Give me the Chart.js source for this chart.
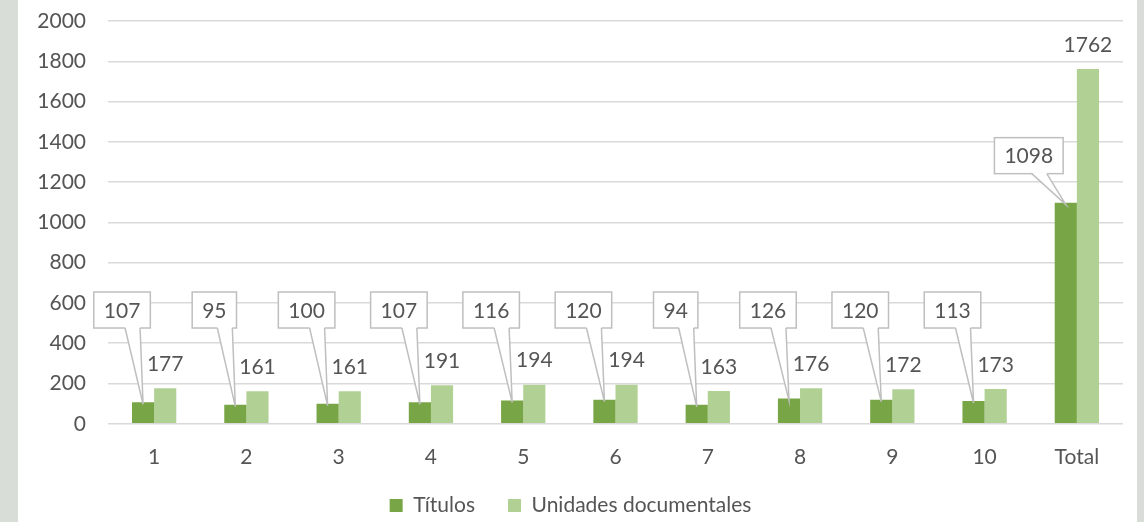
<!DOCTYPE html>
<html lang="es">
<head>
  <meta charset="UTF-8" />
  <title>Títulos y unidades documentales</title>
  <script src="https://cdn.jsdelivr.net/npm/chart.js"></script>
  <style>
    html, body { margin: 0; padding: 0; }
    body { background: #d9ddd8; width: 1144px; height: 522px; overflow: hidden; }
    .panel { position: absolute; left: 18px; top: 0; width: 1119px; height: 522px; background: #fff; }
  </style>
</head>
<body>
  <div class="panel">
    <canvas id="chart" width="1119" height="522"></canvas>
  </div>

  <script>
    // datos
    const categorias = ['1', '2', '3', '4', '5', '6', '7', '8', '9', '10', 'Total'];
    const titulos = [107, 95, 100, 107, 116, 120, 94, 126, 120, 113, 1098];
    const unidades = [177, 161, 161, 191, 194, 194, 163, 176, 172, 173, 1762];
    const ticksY = [0, 200, 400, 600, 800, 1000, 1200, 1400, 1600, 1800, 2000];

    const FONT = 'Lato, "Open Sans", sans-serif';
    const SIZE = 21;
    const GRIS = '#555555';

    // etiquetas: recuadro con flecha para Títulos, texto simple para Unidades
    const etiquetas = {
      id: 'etiquetas',
      afterDatasetsDraw(chart) {
        const ctx = chart.ctx;
        const y = chart.scales.y;
        ctx.save();
        ctx.font = SIZE + 'px ' + FONT;
        ctx.textAlign = 'center';
        ctx.textBaseline = 'middle';

        // Unidades documentales
        chart.getDatasetMeta(1).data.forEach((bar, i) => {
          ctx.fillStyle = GRIS;
          ctx.fillText(String(unidades[i]), bar.x, bar.y - 24);
        });

        // Títulos (callouts)
        chart.getDatasetMeta(0).data.forEach((bar, i) => {
          const txt = String(titulos[i]);
          const w = ctx.measureText(txt).width + 20;
          const h = 36;
          const cx = bar.x - (txt.length > 3 ? 37 : 21);
          const cy = Math.min(y.getPixelForValue(565), bar.y - 47);
          const left = cx - w / 2, top = cy - h / 2, bottom = cy + h / 2;

          ctx.fillStyle = '#fff';
          ctx.strokeStyle = '#bfbfbf';
          ctx.lineWidth = 1.5;
          ctx.fillRect(left, top, w, h);
          ctx.strokeRect(left, top, w, h);

          const tipX = bar.x, tipY = bar.y + 2;
          const a = cx + 3, b = cx + 18;
          ctx.beginPath();
          ctx.moveTo(a, bottom - 1);
          ctx.lineTo(tipX, tipY);
          ctx.lineTo(b, bottom - 1);
          ctx.closePath();
          ctx.fill();
          ctx.beginPath();
          ctx.moveTo(a, bottom);
          ctx.lineTo(tipX, tipY);
          ctx.lineTo(b, bottom);
          ctx.stroke();

          ctx.fillStyle = GRIS;
          ctx.fillText(txt, cx, cy + 1);
        });
        ctx.restore();
      }
    };

    new Chart(document.getElementById('chart'), {
      type: 'bar',
      data: {
        labels: categorias,
        datasets: [
          { label: 'Títulos', data: titulos, backgroundColor: '#78a646' },
          { label: 'Unidades documentales', data: unidades, backgroundColor: '#b0d094' }
        ]
      },
      options: {
        responsive: false,
        animation: false,
        datasets: { bar: { barPercentage: 1, categoryPercentage: 0.48 } },
        layout: { padding: { left: 0, right: 14, top: 21, bottom: -4 } },
        plugins: {
          legend: {
            position: 'bottom',
            labels: {
              boxWidth: 13, boxHeight: 13, padding: 12,
              color: GRIS, font: { family: FONT, size: SIZE },
              // un poco más de aire entre las dos entradas
              generateLabels: chart => Chart.defaults.plugins.legend.labels.generateLabels(chart)
                .map((l, i) => i === 0 ? { ...l, text: l.text + '\u2002\u2002' } : l)
            }
          },
          tooltip: { enabled: false }
        },
        scales: {
          x: {
            grid: { display: false },
            border: { display: false },
            ticks: { color: GRIS, font: { family: FONT, size: SIZE }, padding: 13 }
          },
          y: {
            min: 0, max: 2000,
            afterBuildTicks: s => { s.ticks = ticksY.map(v => ({ value: v })); },
            afterFit: s => { s.width = 90; s.paddingTop = 0; s.paddingBottom = 0; },
            grid: { color: '#d9d9d9', lineWidth: 1.5, drawTicks: false },
            border: { display: false },
            ticks: {
              color: GRIS, font: { family: FONT, size: SIZE }, padding: 22,
              callback: v => String(v)
            }
          }
        }
      },
      plugins: [etiquetas]
    });
  </script>
</body>
</html>
